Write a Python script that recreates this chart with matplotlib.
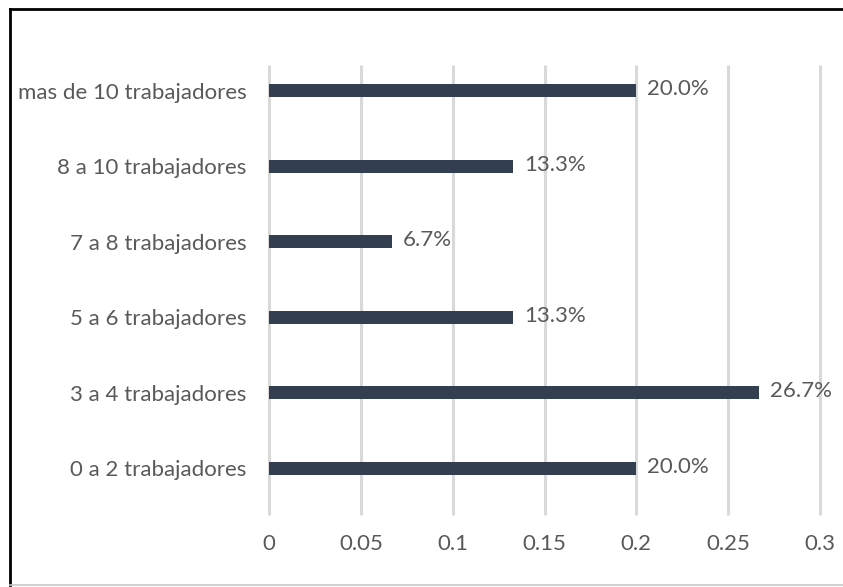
import matplotlib
matplotlib.use("Agg")
import matplotlib.pyplot as plt
from matplotlib.lines import Line2D

categories = ["0 a 2 trabajadores", "3 a 4 trabajadores", "5 a 6 trabajadores",
              "7 a 8 trabajadores", "8 a 10 trabajadores", "mas de 10 trabajadores"]
values = [0.200, 0.267, 0.133, 0.067, 0.133, 0.200]
labels = ["20.0%", "26.7%", "13.3%", "6.7%", "13.3%", "20.0%"]
xticks = [0, 0.05, 0.1, 0.15, 0.2, 0.25, 0.3]
xticklabels = ["0", "0.05", "0.1", "0.15", "0.2", "0.25", "0.3"]

plt.rcParams['font.family'] = ['Lato', 'DejaVu Sans']
W, H = 843, 587
fig = plt.figure(figsize=(W/100, H/100), dpi=100)
# category band spans 53..506 px (top..bottom)
ax = fig.add_axes([269/W, (H-506)/H, 551/W, 453/H])

FS = 16
y = list(range(len(categories)))
ax.barh(y, values, height=0.17, color="#333F50", zorder=3)
for yi, v, lab in zip(y, values, labels):
    ax.text(v + 0.006, yi + 0.02, lab, va="center", ha="left", fontsize=FS, color="#595959")

ax.set_xlim(0, 0.3)
ax.set_ylim(-0.5, 5.5)
ax.set_xticks(xticks)
ax.set_xticklabels(xticklabels)
ax.set_yticks(y)
ax.set_yticklabels(categories)
ax.tick_params(axis="both", length=0, labelsize=FS, labelcolor="#595959")
ax.tick_params(axis="x", pad=20)
ax.tick_params(axis="y", pad=16)
# gridlines span 65..515 px
px = 453 / 6.0
ylo = -0.5 - (515 - 506) / px
yhi = 5.5 - (65 - 53) / px
ax.vlines(xticks, ylo, yhi, colors="#D9D9D9", linewidth=2.2, zorder=0, clip_on=False)
for s in ax.spines.values():
    s.set_visible(False)

fig.add_artist(Line2D([10/W, 10/W], [2/H, 578/H], color="black", linewidth=2, transform=fig.transFigure))
fig.add_artist(Line2D([10/W, 1.0], [578/H, 578/H], color="black", linewidth=2, transform=fig.transFigure))
fig.add_artist(Line2D([10/W, 1.0], [2/H, 2/H], color="#C8C8C8", linewidth=1.2, transform=fig.transFigure))

fig.savefig("out.png", dpi=100)
